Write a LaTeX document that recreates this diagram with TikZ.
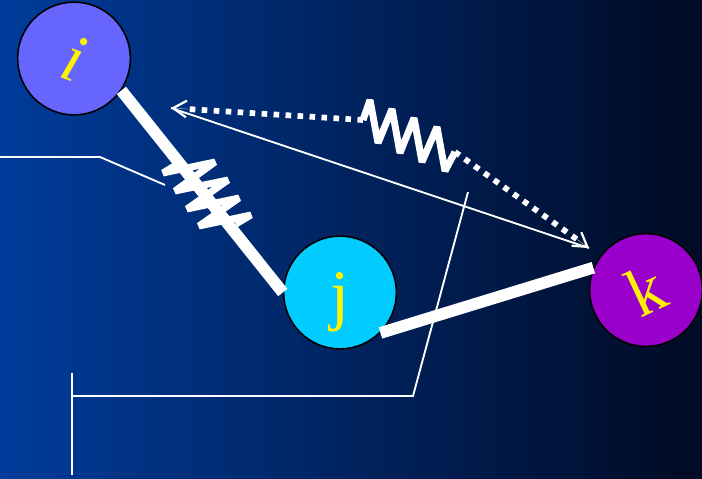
\documentclass[tikz,border=0pt]{standalone}
\usepackage{graphicx}
\usepackage{fontspec}
\setmainfont{Liberation Serif}
\usetikzlibrary{arrows.meta,calc}

\definecolor{bgleft}{RGB}{0,60,155}
\definecolor{bgright}{RGB}{0,10,35}
\definecolor{balli}{RGB}{102,102,255}
\definecolor{ballj}{RGB}{0,204,255}
\definecolor{ballk}{RGB}{153,0,204}

\tikzset{
  ball/.style={circle,draw=black,line width=1.2pt,minimum size=84.6pt,inner sep=0pt,
    text=yellow,font=\fontsize{51}{51}\selectfont},
  bond/.style={white,line width=8.8pt},
  spring/.style={white,line width=5.2pt,line join=bevel},
  dotbond/.style={white,line width=4.3pt,dash pattern=on 4.2pt off 4.8pt},
  barbhead/.style={white,line width=0.2pt,
    -{Straight Barb[length=10pt,width=12.5pt,line width=1.7pt]}},
  thinline/.style={white,line width=1.4pt},
}

\begin{document}
\begin{tikzpicture}[x=0.75pt,y=-0.75pt]
  \useasboundingbox (0,0) rectangle (702,478);
  \shade[left color=bgleft,right color=bgright] (0,0) rectangle (702,478);

  \node[ball,fill=balli] (i) at (74,58.5) {\rotatebox{-20}{\textit{i}}};
  \node[ball,fill=ballj,text height=43pt,text depth=5pt] (j) at (340,292.5) {j};
  \node[ball,fill=ballk] (k) at (646,290) {\rotatebox{25}{k}};

  \coordinate (headi) at (171,108);
  \coordinate (headk) at (589,248);
  \coordinate (springa) at (363,120);
  \coordinate (springb) at (455,152);
  \coordinate (barb) at (165,185);
  \coordinate (barc) at (468,192);
  \coordinate (stema) at (72,373);
  \coordinate (stemb) at (72,475);
  \coordinate (stemc) at (72,396);
  \coordinate (left) at (0,157);
  \coordinate (endi) at ($(headi)!13pt!(springa)$);
  \coordinate (endk) at ($(headk)!11pt!(springb)$);

  \draw[thinline] (headi) -- (headk);
  \draw[dotbond] (springa) -- (endi);
  \draw[dotbond] (springb) -- (endk);
  \draw[barbhead] (endi) -- (headi);
  \draw[barbhead] (endk) -- (headk);
  \draw[thinline] (left) -- (100,157) -- (barb);
  \draw[thinline] (stemc) -- (413,396) -- (barc);
  \draw[white,line width=1.7pt] (stema) -- (stemb);

  \draw[bond] (i.326) -- (j.180);
  \draw[bond] (j.315) -- (k.157);

  % springs
  \draw[spring] (176,165) -- (163,173) -- (215,162) -- (175,191) -- (228,180) -- (187,209)
    -- (239,198) -- (199,226) -- (251,215) -- (236,224);
  \draw[spring] (springa) -- (370,100) -- (378,143) -- (392,109) -- (400,153) -- (414,118)
    -- (422,162) -- (437,127) -- (445,171) -- (springb);
\end{tikzpicture}
\end{document}
